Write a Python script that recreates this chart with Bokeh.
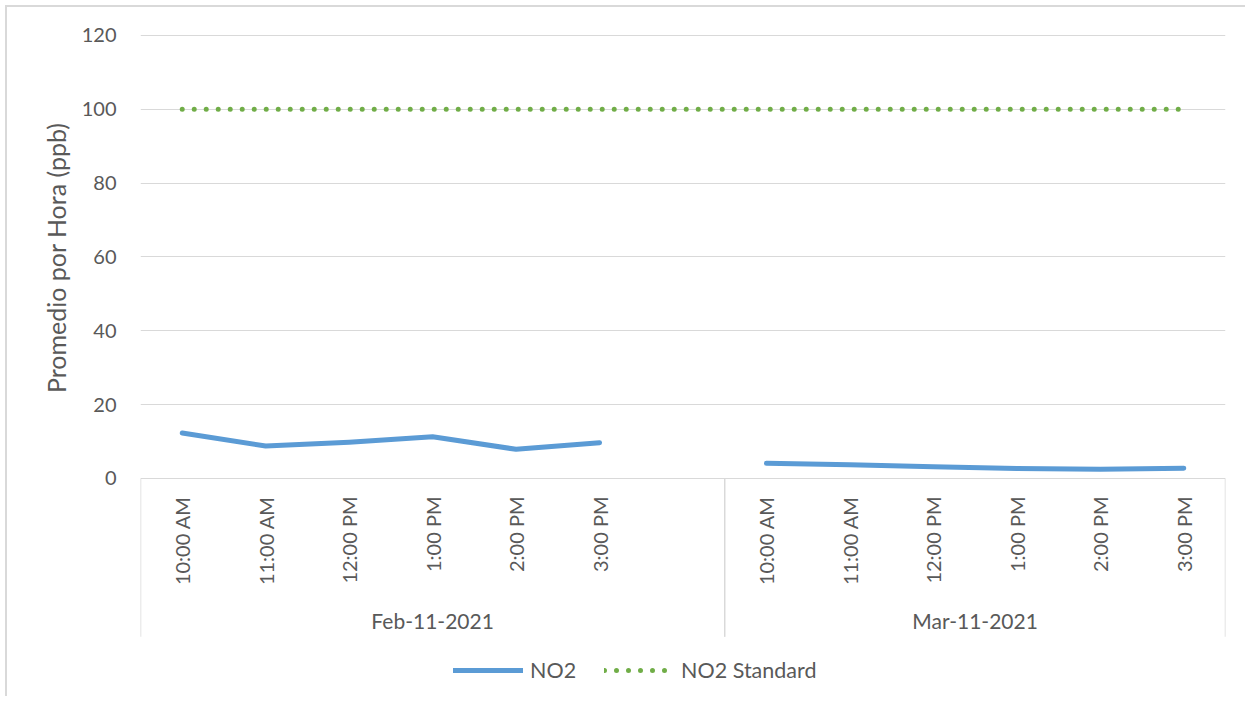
import math
from bokeh.plotting import figure
from bokeh.models import (FactorRange, Range1d, ColumnDataSource, FixedTicker,
                          Legend, LegendItem, Title)
from bokeh.core.properties import value
from bokeh.embed import file_html
from bokeh.resources import INLINE

# ---- data ----
dates = ["Feb-11-2021", "Mar-11-2021"]
feb_hours = ["10:00 AM", "11:00 AM", "12:00 PM", "1:00 PM", "2:00 PM", "3:00 PM", ""]
mar_hours = ["10:00 AM", "11:00 AM", "12:00 PM", "1:00 PM", "2:00 PM", "3:00 PM"]
no2_feb = [12.3, 8.8, 9.8, 11.3, 7.9, 9.7, float("nan")]
no2_mar = [4.1, 3.7, 3.2, 2.7, 2.5, 2.8]
no2_standard = [100] * 13
y_ticks = [0, 20, 40, 60, 80, 100, 120]
y_title = "Promedio por Hora (ppb)"

factors = [(dates[0], h) for h in feb_hours] + [(dates[1], h) for h in mar_hours]
no2 = no2_feb + no2_mar
hour_labels = feb_hours + mar_hours

FONT = "Lato"
TXT = "#595959"
GRID = "#D9D9D9"
Y_TOP = 121.35  # a little headroom so the 120 gridline is drawn
Y_MIN = -59.6   # bottom of frame (includes category-label and legend area)
Y_SEP = -42.9   # bottom of the category separators

x_range = FactorRange(*factors, factor_padding=0, group_padding=0,
                      subgroup_padding=0, range_padding=0)

p = figure(width=1240, height=691, x_range=x_range, y_range=Range1d(Y_MIN, Y_TOP),
           output_backend="svg", toolbar_location=None,
           min_border_left=133, min_border_right=22, min_border_top=23,
           min_border_bottom=0)
p.styles = {"margin-left": "5px", "margin-top": "5px",
            "border-left": "2px solid #d9d9d9", "border-top": "2px solid #d9d9d9"}
p.outline_line_color = None
p.xaxis.visible = False
p.xgrid.visible = False

yax = p.yaxis[0]
yax.ticker = FixedTicker(ticks=y_ticks)
yax.axis_line_color = None
yax.major_tick_line_color = None
yax.minor_tick_line_color = None
yax.major_label_standoff = 18
yax.major_label_text_font = FONT
yax.major_label_text_font_size = "20px"
yax.major_label_text_color = TXT
p.ygrid.ticker = FixedTicker(ticks=y_ticks)
p.ygrid.grid_line_color = GRID
p.ygrid.grid_line_width = 1

# y-axis title, placed level with the value range (0..120) of the axis
p.add_layout(Title(text=y_title, align="right", offset=92, standoff=14,
                   vertical_align="middle", text_font=FONT,
                   text_font_size="25px", text_font_style="normal",
                   text_color=TXT), "left")

src = ColumnDataSource(dict(x=factors, no2=no2, std=no2_standard, lab=hour_labels))

r_std = p.line("x", "std", source=src, line_color="#70AD47", line_width=5,
               line_dash="0 12", line_cap="round")
r_no2 = p.line("x", "no2", source=src, line_color="#5B9BD5", line_width=5,
               line_cap="round", line_join="round")

# category labels (rotated)
p.text(x="x", y=0, text="lab", source=src, angle=math.pi / 2, y_offset=18,
       text_align="right", text_baseline="middle", text_font=value(FONT),
       text_font_size="20px", text_color=TXT)

# group labels
p.text(x=dates, y=[Y_SEP] * len(dates), text=dates, y_offset=-16,
       text_align="center", text_baseline="middle", text_font=value(FONT),
       text_font_size="21px", text_color=TXT)

# group separators
bounds = [factors[0] + (-0.5,)]
for i in range(len(factors) - 1):
    if factors[i][0] != factors[i + 1][0]:
        bounds.append(factors[i] + (0.5,))
bounds.append(factors[-1] + (0.5,))
p.segment(x0=bounds, y0=[0] * len(bounds), x1=bounds, y1=[Y_SEP] * len(bounds),
          line_color=GRID, line_width=1.5)

legend = Legend(items=[LegendItem(label="NO2", renderers=[r_no2]),
                       LegendItem(label="NO2 Standard", renderers=[r_std])],
                orientation="horizontal", location=(313, 15),
                border_line_color=None, background_fill_alpha=0,
                glyph_width=70, glyph_height=20, label_standoff=7, spacing=28,
                label_text_font=FONT, label_text_font_size="21.5px",
                label_text_color=TXT, margin=0, padding=6)
p.add_layout(legend)

open("out.html", "w").write(file_html(p, INLINE))
